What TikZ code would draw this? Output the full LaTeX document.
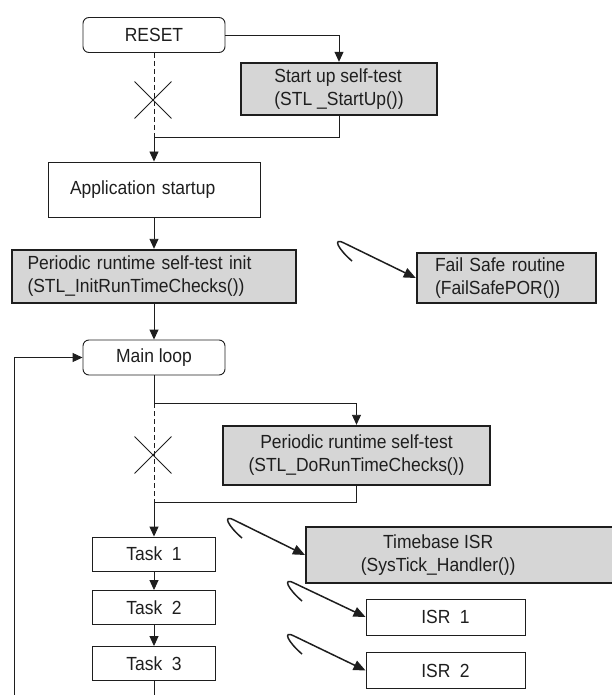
\documentclass[tikz,border=0pt]{standalone}
\usepackage{fontspec}
\setmainfont{Liberation Sans}[FakeStretch=0.92]
\usetikzlibrary{arrows.meta,shapes.misc}
\definecolor{stlgray}{HTML}{D6D6D6}
\definecolor{ink}{HTML}{1E1E1E}
\begin{document}
\begin{tikzpicture}[x=1pt, y=1pt,
  every node/.style={font=\fontsize{19}{23}\selectfont, text=ink},
  plainbox/.style={draw=ink, line width=0.9pt},
  roundbox/.style={plainbox, rounded corners=6pt, minimum width=142pt, minimum height=35pt},
  graybox/.style={draw=ink, line width=2.4pt, fill=stlgray},
  taskbox/.style={plainbox, minimum width=123pt, minimum height=34pt},
  isrbox/.style={plainbox, minimum width=159pt, minimum height=36pt},
  skipmark/.style={cross out, draw=ink, line width=0.9pt, minimum width=36pt, minimum height=36pt, inner sep=0pt},
  flow/.style={draw=ink, line width=0.9pt, -{Triangle[length=10pt,width=9pt]}},
  skipline/.style={draw=ink, line width=0.9pt, dash pattern=on 5pt off 3pt},
  isrcall/.style={draw=ink, line width=1.5pt, -{Triangle[length=12pt,width=10pt]}}]

\useasboundingbox (0,0) rectangle (611,-695);

% Start-up part
\node[roundbox] (reset) at (154,-35) {RESET};
\node[graybox, minimum width=196pt, minimum height=52pt, align=left] (startup) at (339,-89) {Start up self-test\\(STL \_StartUp())};
\node[plainbox, text width=168pt, inner xsep=22pt, minimum height=55pt, align=left] (app) at (154,-189.5) {Application startup};
\node[graybox, text width=253pt, inner xsep=15.5pt, minimum height=53pt, align=left] (init) at (154,-276.5) {Periodic runtime self-test init\\ (STL\_InitRunTimeChecks())};
\node[graybox, text width=143pt, inner xsep=18pt, minimum height=50pt, align=left] (failsafe) at (506.5,-278) {Fail Safe routine\\(FailSafePOR())};

% Main loop part
\node[roundbox] (mainloop) at (154,-357.5) {Main loop};
\node[graybox, minimum width=267pt, minimum height=59pt, align=center] (dortc) at (356.5,-455.5) {Periodic runtime self-test\\(STL\_DoRunTimeChecks())};
\foreach \i/\y in {1/554, 2/607.5, 3/663.5}
  \node[taskbox] (task\i) at (154,-\y) {Task\enspace\i};

% Interrupts
\node[graybox, minimum width=320pt, minimum height=56pt, align=center, anchor=west] (tick) at (305,-555) {Timebase ISR\hspace*{56pt}\\(SysTick\_Handler())\hspace*{56pt}};
\node[isrbox] (isr1) at (445.5,-617) {ISR\enspace 1};
\node[isrbox] (isr2) at (445.5,-670.5) {ISR\enspace 2};

% Skipped paths
\coordinate (j1) at (154,-137);
\coordinate (j2) at (154,-403);
\coordinate (j3) at (154,-502);
\node[skipmark] (x1) at (153,-100) {};
\node[skipmark] (x2) at (153,-455) {};
\draw[skipline] (reset.south) -- (j1);
\draw[skipline] (j2) -- (j3);

% Flow
\coordinate (loopfoot) at (14,-705);
\coordinate (taskfoot) at (154,-705);
\draw[flow] (reset.east) -| (startup.north);
\draw[flow] (startup.south) |- (j1) -- (app.north);
\draw[flow] (app) -- (init);
\draw[flow] (init) -- (mainloop);
\draw[flow] (loopfoot) |- (mainloop.west);
\draw[flow] (mainloop.south) -- (j2) -| (dortc.north);
\draw[flow] (dortc.south) |- (j3) -- (task1.north);
\draw[flow] (task1) -- (task2);
\draw[flow] (task2) -- (task3);
\draw[draw=ink, line width=0.9pt] (task3) -- (taskfoot);

% Calls into routines
\coordinate (hfail) at (352,-261);
\coordinate (htick) at (242,-538);
\coordinate (hisr1) at (302,-601);
\coordinate (hisr2) at (302,-654);
\foreach \s/\t in {hfail/failsafe, htick/tick, hisr1/isr1, hisr2/isr2}
  \draw[isrcall] (\s) .. controls +(-14,12) and +(-12,6) .. ++(-8,18) -- (\t.west);

\end{tikzpicture}
\end{document}
